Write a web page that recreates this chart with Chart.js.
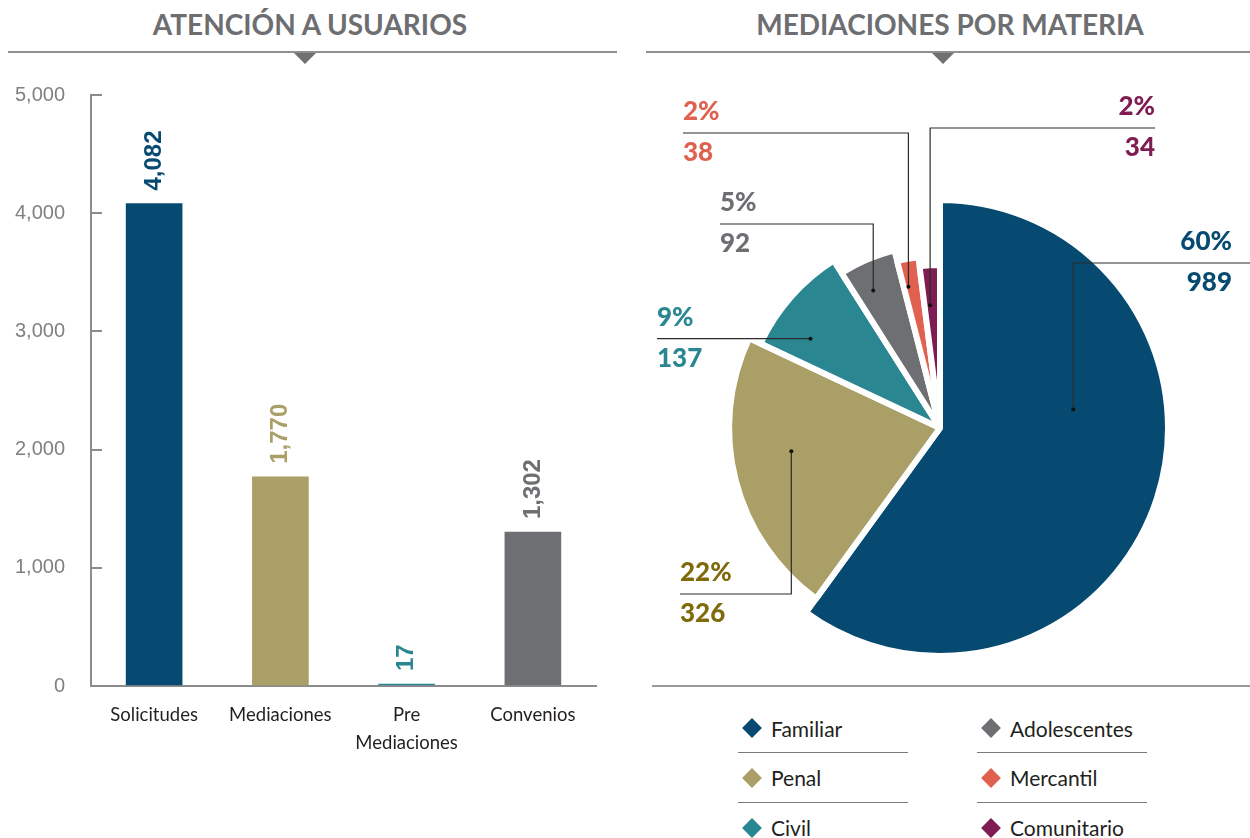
<!DOCTYPE html>
<html lang="es">
<head>
<meta charset="utf-8">
<title>Atención a usuarios y mediaciones por materia</title>
<script src="https://cdn.jsdelivr.net/npm/chart.js@4.4.1/dist/chart.umd.min.js"></script>
<style>
  html, body { margin: 0; padding: 0; background: #fff; }
  body { width: 1250px; height: 838px; position: relative; overflow: hidden; font-family: Lato, "Noto Sans", sans-serif; }
  .title { position: absolute; top: 5px; width: 620px; line-height: 38px; font-size: 28px; font-weight: 700; color: #6d6e72; text-align: center; }
  .rule { position: absolute; top: 51px; height: 2px; background: #8f8f8f; }
  .notch { position: absolute; top: 53px; width: 0; height: 0; border-left: 11px solid transparent; border-right: 11px solid transparent; border-top: 11px solid #6f7074; }
  canvas { position: absolute; }
  #pieRule { position: absolute; left: 652px; top: 685px; width: 598px; height: 2px; background: #9a9a9a; }
  #legend { position: absolute; left: 738px; top: 704px; display: grid; grid-template-columns: 170px 170px; grid-template-rows: 49px 50px 49px; grid-auto-flow: column; column-gap: 69px; }
  .item { display: flex; align-items: center; font-size: 21px; color: #231f20; box-sizing: border-box; }
  .item.sep { border-bottom: 1px solid #7a7a7a; }
  .diamond { width: 14px; height: 14px; margin-left: 7px; margin-right: 12px; transform: rotate(45deg); }
</style>
</head>
<body>
<div class="title" style="left:0">ATENCIÓN A USUARIOS</div>
<div class="rule" style="left:8px; width:609px"></div>
<div class="notch" style="left:294px"></div>

<div class="title" style="left:640px">MEDIACIONES POR MATERIA</div>
<div class="rule" style="left:646px; width:604px"></div>
<div class="notch" style="left:932px"></div>

<canvas id="barChart" width="620" height="720" style="left:0; top:60px"></canvas>
<canvas id="pieChart" width="610" height="630" style="left:640px; top:60px"></canvas>
<div id="pieRule"></div>
<div id="legend"></div>

<script>
// atención a usuarios
const categories = ['Solicitudes', 'Mediaciones', ['Pre', 'Mediaciones'], 'Convenios'];
const requestValues = [4082, 1770, 17, 1302];
const yTickValues = [0, 1000, 2000, 3000, 4000, 5000];

// mediaciones por materia
const materias = ['Familiar', 'Penal', 'Civil', 'Adolescentes', 'Mercantil', 'Comunitario'];
const sharePct = [60, 22, 9, 5, 2, 2];
const caseCounts = [989, 326, 137, 92, 38, 34];

// estilos
const barColors = ['#074a71', '#aa9f67', '#2a8792', '#6e6f73'];
const sliceColors = ['#074a71', '#aa9f67', '#2a8792', '#6e6f73', '#e06150', '#7e1d52'];
const labelColors = ['#074a71', '#7f6a0c', '#2a8792', '#6e6f73', '#e06150', '#7e1d52'];
const sliceDepth = [1, 0.925, 0.87, 0.805, 0.755, 0.715];

// posicion de las lineas guia (coordenadas del canvas)
const leaders = [
  { along: 0.38, depth: 0.59, lineY: 203, endX: 610, textX: 592, align: 'right' },
  { along: 0.57, depth: 0.66, lineY: 534, endX: 40, textX: 40, align: 'left' },
  { along: 0.29, depth: 0.69, lineY: null, endX: 17, textX: 17, align: 'left' },
  { along: 0.36, depth: 0.67, lineY: 164, endX: 80, textX: 80, align: 'left' },
  { along: 0.25, depth: 0.635, lineY: 73, endX: 43, textX: 43, align: 'left' },
  { along: 0.36, depth: 0.54, lineY: 68, endX: 515, textX: 515, align: 'right' }
];

const fmt = v => v.toLocaleString('en-US');

// etiquetas verticales sobre las barras
const barValueLabels = {
  id: 'barValueLabels',
  afterDatasetsDraw(chart) {
    const ctx = chart.ctx;
    const meta = chart.getDatasetMeta(0);
    ctx.save();
    ctx.font = 'bold 24px "Liberation Sans", Arial, sans-serif';
    ctx.textAlign = 'left';
    ctx.textBaseline = 'middle';
    meta.data.forEach(function (bar, i) {
      ctx.save();
      ctx.translate(bar.x, bar.y - 13);
      ctx.rotate(-Math.PI / 2);
      ctx.fillStyle = barColors[i];
      ctx.fillText(fmt(requestValues[i]), 0, 0);
      ctx.restore();
    });
    ctx.restore();
  }
};

new Chart(document.getElementById('barChart'), {
  type: 'bar',
  data: {
    labels: categories,
    datasets: [{ data: requestValues, backgroundColor: barColors, barThickness: 56 }]
  },
  options: {
    responsive: false,
    animation: false,
    layout: { padding: { top: 35, right: 24, left: 0, bottom: 0 } },
    plugins: { legend: { display: false }, tooltip: { enabled: false } },
    scales: {
      x: {
        afterFit(scale) { scale.height = 94; },
        grid: { drawOnChartArea: false, drawTicks: false },
        border: { color: '#8c8c8c', width: 2 },
        ticks: {
          color: '#231f20', padding: 15, maxRotation: 0, autoSkip: false,
          font: { family: 'Lato', size: 18.5, lineHeight: 1.5 }
        }
      },
      y: {
        min: 0, max: 5000,
        afterFit(scale) { scale.width = 91; },
        afterBuildTicks(scale) { scale.ticks = yTickValues.map(v => ({ value: v })); },
        grid: { drawTicks: false, color: '#8c8c8c', lineWidth: 2 },
        border: { color: '#8c8c8c', width: 2, dash: [10, 2000] },
        ticks: {
          color: '#808080', padding: 26,
          font: { family: 'Liberation Sans', size: 20, lineHeight: 0.9 },
          callback: v => fmt(v)
        }
      }
    }
  },
  plugins: [barValueLabels]
});

// cada rebanada con su propio radio
const sliceDepthPlugin = {
  id: 'sliceDepth',
  afterDatasetUpdate(chart, args) {
    const base = args.meta.controller.outerRadius;
    args.meta.data.forEach(function (arc, i) {
      arc.outerRadius = base * sliceDepth[i];
    });
  }
};

// lineas guia con porcentaje y total
const leaderLabels = {
  id: 'leaderLabels',
  afterDatasetsDraw(chart) {
    const ctx = chart.ctx;
    const meta = chart.getDatasetMeta(0);
    const base = meta.controller.outerRadius;
    ctx.save();
    meta.data.forEach(function (arc, i) {
      const l = leaders[i];
      const a = arc.startAngle + l.along * (arc.endAngle - arc.startAngle);
      const px = arc.x + Math.cos(a) * base * l.depth;
      const py = arc.y + Math.sin(a) * base * l.depth;
      const ly = l.lineY === null ? py : l.lineY;

      ctx.strokeStyle = '#2b2b2b';
      ctx.lineWidth = 1.2;
      ctx.beginPath();
      ctx.moveTo(px, py);
      ctx.lineTo(px, ly);
      ctx.lineTo(l.endX, ly);
      ctx.stroke();
      ctx.fillStyle = '#111';
      ctx.beginPath();
      ctx.arc(px, py, 2, 0, Math.PI * 2);
      ctx.fill();

      ctx.fillStyle = labelColors[i];
      ctx.font = '900 26px Lato, "Noto Sans", sans-serif';
      ctx.textAlign = l.align;
      ctx.textBaseline = 'middle';
      ctx.fillText(sharePct[i] + '%', l.textX, ly - 21);
      ctx.fillText(fmt(caseCounts[i]), l.textX, ly + 20);
    });
    ctx.restore();
  }
};

new Chart(document.getElementById('pieChart'), {
  type: 'pie',
  data: {
    labels: materias,
    datasets: [{
      data: sharePct,
      backgroundColor: sliceColors,
      borderColor: '#fff',
      borderWidth: 6,
      hoverOffset: 0
    }]
  },
  options: {
    responsive: false,
    animation: false,
    layout: { padding: { left: 69, right: 79, top: 137, bottom: 31 } },
    plugins: { legend: { display: false }, tooltip: { enabled: false } }
  },
  plugins: [sliceDepthPlugin, leaderLabels]
});

// leyenda
const legend = document.getElementById('legend');
materias.forEach(function (name, i) {
  const item = document.createElement('div');
  item.className = 'item' + (i % 3 !== 2 ? ' sep' : '');
  const mark = document.createElement('span');
  mark.className = 'diamond';
  mark.style.background = sliceColors[i];
  item.appendChild(mark);
  item.appendChild(document.createTextNode(name));
  legend.appendChild(item);
});
</script>
</body>
</html>
